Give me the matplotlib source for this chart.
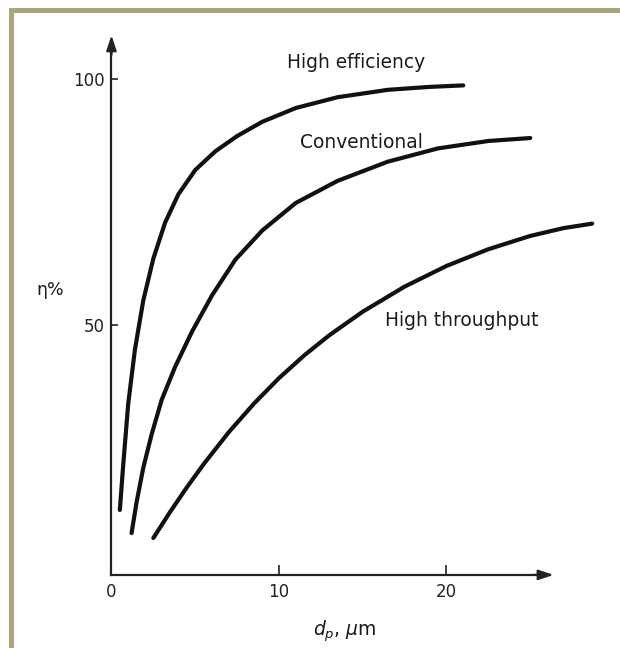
import matplotlib
matplotlib.use("Agg")
import matplotlib.pyplot as plt
from matplotlib.patches import Rectangle

# ---- data ----
he_x = [0.5, 0.7, 1.0, 1.4, 1.9, 2.5, 3.2, 4.0, 5.0, 6.2, 7.5, 9.0, 11.0, 13.5, 16.5, 19.0, 21.0]
he_y = [12.4, 21.5, 34.0, 45.0, 55.0, 63.5, 70.8, 76.6, 81.5, 85.3, 88.4, 91.3, 94.1, 96.3, 97.8, 98.4, 98.7]

conv_x = [1.2, 1.5, 1.9, 2.4, 3.0, 3.8, 4.8, 6.0, 7.4, 9.0, 11.0, 13.5, 16.5, 19.5, 22.5, 25.0]
conv_y = [7.7, 14.0, 21.0, 27.8, 34.8, 41.5, 48.6, 56.0, 63.3, 69.2, 74.8, 79.3, 83.2, 85.9, 87.4, 88.0]

ht_x = [2.5, 3.5, 4.5, 5.5, 7.0, 8.5, 10.0, 11.5, 13.0, 15.0, 17.5, 20.0, 22.5, 25.0, 27.0, 28.7]
ht_y = [6.7, 12.0, 17.0, 21.7, 28.2, 34.0, 39.2, 43.8, 47.9, 52.7, 57.8, 62.0, 65.4, 68.1, 69.7, 70.6]

curve_labels = ["High efficiency", "Conventional", "High throughput"]
label_pos_x = [14.6, 14.9, 20.9]
label_pos_y = [102.2, 86.0, 49.8]

x_ticks = [0, 10, 20]
x_ticklabels = ["0", "10", "20"]
y_ticks = [50, 100]
y_ticklabels = ["50", "100"]

x_axis_end = 26.4
y_axis_end = 108.9
x_axis_level = -0.8

plt.rcParams["font.family"] = ["DejaVu Sans"]
plt.rcParams["mathtext.fontset"] = "dejavusans"

ink = "#111111"

fig = plt.figure(figsize=(6.2, 6.48), dpi=100)
fig.patch.set_facecolor("white")

# tan frame (left and top)
frame_col = "#aba57b"
fig.add_artist(Rectangle((9 / 620, 0), 5 / 620, (648 - 8) / 648,
                         transform=fig.transFigure, color=frame_col, lw=0))
fig.add_artist(Rectangle((9 / 620, (648 - 13) / 648), 611 / 620, 5 / 648,
                         transform=fig.transFigure, color=frame_col, lw=0))

ax = fig.add_axes([0.1798, 0.1037, 0.8105, 0.8503])
ax.set_facecolor("none")
ax.set_xlim(0, 30)
ax.set_ylim(-2, 110)

for s in ["top", "right"]:
    ax.spines[s].set_visible(False)
ax.spines["left"].set_position(("data", 0))
ax.spines["bottom"].set_position(("data", x_axis_level))
ax.spines["left"].set_bounds(x_axis_level, y_axis_end - 2)
ax.spines["bottom"].set_bounds(0, x_axis_end - 0.5)
for s in ["left", "bottom"]:
    ax.spines[s].set_linewidth(1.6)
    ax.spines[s].set_color("#222222")

ax.set_xticks(x_ticks)
ax.set_xticklabels(x_ticklabels)
ax.set_yticks(y_ticks)
ax.set_yticklabels(y_ticklabels)
ax.tick_params(axis="x", direction="in", length=7, width=1.2, pad=6,
               labelsize=12, colors="#222222")
ax.tick_params(axis="y", direction="in", length=5, width=1.2, pad=5,
               labelsize=12, colors="#222222")

# arrow heads
ax.annotate("", xy=(0, y_axis_end), xytext=(0, y_axis_end - 4),
            arrowprops=dict(arrowstyle="-|>,head_length=0.9,head_width=0.3",
                            lw=1.6, color="#222222", shrinkA=0, shrinkB=0),
            annotation_clip=False)
ax.annotate("", xy=(x_axis_end, x_axis_level), xytext=(x_axis_end - 1.2, x_axis_level),
            arrowprops=dict(arrowstyle="-|>,head_length=0.9,head_width=0.3",
                            lw=1.6, color="#222222", shrinkA=0, shrinkB=0),
            annotation_clip=False)

# curves
for xs, ys in [(he_x, he_y), (conv_x, conv_y), (ht_x, ht_y)]:
    ax.plot(xs, ys, color=ink, lw=3.0, solid_capstyle="round",
            solid_joinstyle="round", clip_on=False)

for t, lx, ly in zip(curve_labels, label_pos_x, label_pos_y):
    ax.text(lx, ly, t, ha="center", va="baseline", fontsize=13.4, color="#1a1a1a")

# axis labels
ax.text(-3.67, 57.1, "η%", ha="center", va="center", fontsize=12.5, color="#1a1a1a")
ax.text(13.9, -12.2, r"$d_p$, $\mu$m", ha="center", va="center", fontsize=13.5,
        color="#1a1a1a")

fig.savefig("out.png", dpi=100, facecolor="white")
